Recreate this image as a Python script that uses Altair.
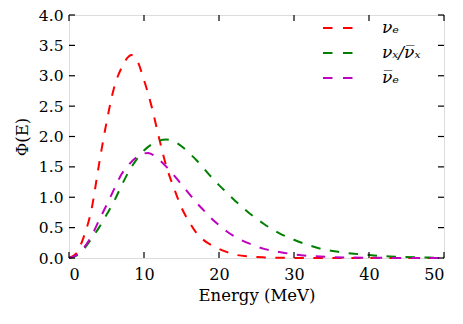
import altair as alt
import pandas as pd

# ---- data ----
series_names = ["νₑ", "νₓ/ν̅ₓ", "ν̅ₑ"]
series_colors = ["#ff0000", "#008000", "#bf00bf"]

nue_E = [0, 1, 2, 3, 4, 5, 6, 7, 8, 8.3, 9, 10, 11, 12, 13, 14, 15, 16, 17, 18, 19, 20, 21, 22, 24, 26, 28, 30, 40, 50]
nue_F = [0, 0.08, 0.36, 0.80, 1.54, 2.23, 2.80, 3.13, 3.32, 3.34, 3.27, 2.93, 2.50, 1.98, 1.50, 1.15, 0.83, 0.60, 0.41, 0.29, 0.21, 0.15, 0.10, 0.06, 0.025, 0.01, 0.004, 0.002, 0.0, 0.0]

nux_E = [0, 1, 2, 3, 4, 5, 6, 7, 8, 9, 10, 11, 12, 13, 14, 15, 16, 17, 18, 19, 20, 21, 22, 23, 24, 25, 26, 27, 28, 30, 32, 34, 36, 38, 40, 42, 44, 46, 48, 50]
nux_F = [0, 0.04, 0.15, 0.32, 0.50, 0.71, 0.93, 1.19, 1.43, 1.62, 1.77, 1.87, 1.93, 1.95, 1.92, 1.84, 1.73, 1.61, 1.47, 1.33, 1.20, 1.08, 0.96, 0.85, 0.74, 0.65, 0.56, 0.48, 0.41, 0.30, 0.21, 0.14, 0.10, 0.07, 0.05, 0.03, 0.02, 0.012, 0.007, 0.004]

nuebar_E = [0, 1, 2, 3, 4, 5, 6, 7, 8, 9, 10, 10.5, 11, 12, 13, 14, 15, 16, 17, 18, 19, 20, 21, 22, 24, 26, 28, 30, 32, 35, 40, 45, 50]
nuebar_F = [0, 0.05, 0.17, 0.36, 0.62, 0.87, 1.13, 1.38, 1.54, 1.66, 1.72, 1.73, 1.71, 1.62, 1.50, 1.36, 1.21, 1.06, 0.91, 0.78, 0.65, 0.54, 0.44, 0.36, 0.24, 0.15, 0.10, 0.06, 0.035, 0.015, 0.004, 0.001, 0.0]

x_ticks = [0, 10, 20, 30, 40, 50]
y_ticks = [0.0, 0.5, 1.0, 1.5, 2.0, 2.5, 3.0, 3.5, 4.0]

W, H = 375, 243
TICK = 6

rows = []
for name, E, F in zip(series_names, [nue_E, nux_E, nuebar_E], [nue_F, nux_F, nuebar_F]):
    for e, f in zip(E, F):
        rows.append({"E": e, "Phi": f, "s": name})
df = pd.DataFrame(rows)
xt = pd.DataFrame({"E": x_ticks})
yt = pd.DataFrame({"Phi": y_ticks})

FONT = "DejaVu Serif"

xscale = alt.Scale(domain=[0, 50], nice=False, zero=False)
yscale = alt.Scale(domain=[0, 4], nice=False, zero=False)

xaxis = alt.Axis(values=x_ticks, format="d", ticks=False, tickSize=0, domain=False, grid=False,
                 labelPadding=8, titlePadding=5, labelFont=FONT, labelFontSize=16,
                 titleFont=FONT, titleFontSize=16.5, titleFontWeight="normal", labelColor="black",
                 titleColor="black")
yaxis = alt.Axis(values=y_ticks, format=".1f", ticks=False, tickSize=0, domain=False, grid=False,
                 labelPadding=6, titlePadding=8, labelFont=FONT, labelFontSize=15.5,
                 titleFont=FONT, titleFontSize=16.5, titleFontWeight="normal", labelColor="black",
                 titleColor="black")

X = lambda: alt.X("E:Q", scale=xscale, title="Energy (MeV)", axis=xaxis)
Y = lambda: alt.Y("Phi:Q", scale=yscale, title="Φ(E)", axis=yaxis)

lines = alt.Chart(df).mark_line(strokeWidth=2, strokeDash=[9.5, 9.5], interpolate="monotone").encode(
    x=X(),
    y=Y(),
    color=alt.Color("s:N", scale=alt.Scale(domain=series_names, range=series_colors),
                    sort=series_names,
                    legend=alt.Legend(title=None, orient="none", legendX=253, legendY=-3,
                                      symbolType="stroke", symbolSize=900, symbolStrokeWidth=2,
                                      symbolDash=[9.5, 10.5], labelFont="DejaVu Serif", labelFontSize=17,
                                      labelFontStyle="italic", labelOffset=28, rowPadding=1,
                                      labelColor="black")),
    detail="s:N",
)

tick_style = dict(color="black", strokeWidth=1.2)
bottom = alt.Chart(xt).mark_rule(**tick_style).encode(x=X(), y=alt.value(H), y2=alt.value(H - TICK))
top = alt.Chart(xt).mark_rule(**tick_style).encode(x=X(), y=alt.value(0), y2=alt.value(TICK))
left = alt.Chart(yt).mark_rule(**tick_style).encode(y=Y(), x=alt.value(0), x2=alt.value(TICK))
right = alt.Chart(yt).mark_rule(**tick_style).encode(y=Y(), x=alt.value(W), x2=alt.value(W - TICK))

chart = alt.layer(lines, bottom, top, left, right).properties(
    width=W, height=H, autosize="none",
    padding={"left": 61, "top": 7, "right": 11, "bottom": 58},
).configure_view(stroke="black", strokeWidth=1.6).configure(background="white")

chart.save("out.html", embed_options={"renderer": "svg", "actions": False})
